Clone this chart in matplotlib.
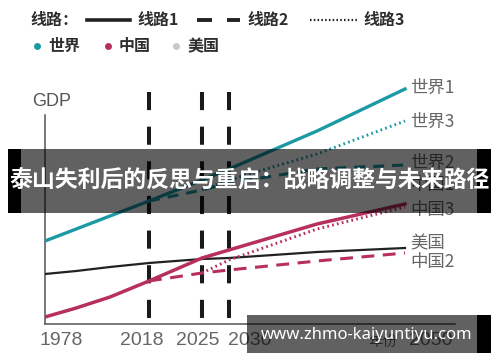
import numpy as np
import matplotlib
matplotlib.use('Agg')
import matplotlib.pyplot as plt
from matplotlib.lines import Line2D
from matplotlib.patches import Rectangle
from matplotlib import transforms

plt.rcParams['font.family'] = ['Noto Sans CJK SC', 'DejaVu Sans']

# ---------------- data (schematic GDP, arbitrary units) ----------------
years_main = [1978, 1990, 2003, 2018, 2025, 2030, 2040, 2050]
world1 = [83, 95, 108, 123, 144, 155, 193, 235]
china1 = [7, 16, 27, 43, 66, 74, 100, 120]
usa = [50, 53, 57, 61, 65, 66, 72, 76]

years_2 = [2018, 2025, 2030, 2040, 2050]
world2 = [123, 134, 141, 155, 159]
china2 = [43, 51, 54, 63, 71]

years_3 = [2025, 2030, 2040, 2050]
world3 = [134, 144, 170, 203]
china3 = [51, 64, 95, 117]

milestones = [2018, 2025, 2030]
milestone_top = 232

tick_years = [1978, 2018, 2025, 2030, 2050]
tick_labels = ['1978', '2018', '2025', '2030', '2050']

end_labels = ['世界1', '世界3', '世界2', '中国1', '中国3', '美国', '中国2']

TEAL = '#1b9aa6'
CRIMSON = '#b72f5e'
BLACK = '#222222'
GRAY_TXT = '#666666'

W, H = 500, 362
fig = plt.figure(figsize=(W / 100, H / 100), dpi=100)
fig.patch.set_facecolor('white')

def fx(px):
    return px / W

def fy(py):
    return 1 - py / H

ax = fig.add_axes([fx(45), fy(324), fx(455) - fx(45), fy(80) - fy(324)])
ax.set_facecolor('none')

# piecewise time axis (schematic, not linear in years)
anchor_years = np.array([1960, 1978, 2018, 2025, 2030, 2050, 2080])
anchor_pos = np.array([-2.0, 45, 149, 202, 229, 405, 669])

def fwd(x):
    return np.interp(x, anchor_years, anchor_pos)

def inv(p):
    return np.interp(p, anchor_pos, anchor_years)

ax.set_xscale('function', functions=(fwd, inv))
ax.set_xlim(1978, float(inv(455)))
ax.set_ylim(0, 244)

# milestone vertical dashed lines (drawn from top down)
for m in milestones:
    ax.plot([m, m], [milestone_top, 0], color='#1a1a1a', lw=2.9,
            linestyle=(0, (4.5, 4.1)), solid_capstyle='butt',
            dash_capstyle='butt', zorder=2)

# lines
ax.plot(years_main, usa, color=BLACK, lw=1.6, zorder=3)
ax.plot(years_main, world1, color=TEAL, lw=2.4, zorder=4, solid_joinstyle='round')
ax.plot(years_main, china1, color=CRIMSON, lw=2.5, zorder=4, solid_joinstyle='round')
ax.plot(years_2, world2, color=TEAL, lw=2.2, linestyle=(0, (3.6, 2.6)), zorder=4)
ax.plot(years_2, china2, color=CRIMSON, lw=2.2, linestyle=(0, (4.2, 2.8)), zorder=4)
ax.plot(years_3, world3, color=TEAL, lw=2.1, linestyle=(0, (0.6, 1.1)), zorder=4)
ax.plot(years_3, china3, color=CRIMSON, lw=2.1, linestyle=(0, (0.6, 1.1)), zorder=4)

# end labels
end_vals = [world1[-1], world3[-1], world2[-1], china1[-1], china3[-1], usa[-1], china2[-1]]
end_offsets_px = [1, -1, 2, 19, -3, 5, -9]
for lab, v, off in zip(end_labels, end_vals, end_offsets_px):
    ax.annotate(lab, xy=(2050, v), xytext=(4, off * 0.72), textcoords='offset points',
                ha='left', va='center', fontsize=12.5, color=GRAY_TXT,
                annotation_clip=False, zorder=5)

# axes styling
for s in ['top', 'right']:
    ax.spines[s].set_visible(False)
ax.spines['left'].set_color('#555555')
ax.spines['bottom'].set_color('#555555')
ax.spines['left'].set_linewidth(1.1)
ax.spines['bottom'].set_linewidth(1.1)
ax.spines['left'].set_bounds(0, 209)
ax.set_yticks([])
ax.set_xticks(tick_years)
ax.set_xticklabels(tick_labels, fontfamily='Liberation Sans', fontsize=14, color=GRAY_TXT)
ax.tick_params(axis='x', length=0, pad=6)
offs = [16, -7, -4, 21, 26]
for lbl, dx in zip(ax.get_xticklabels(), offs):
    lbl.set_transform(lbl.get_transform() +
                      transforms.ScaledTranslation(dx / 100, 0, fig.dpi_scale_trans))

fig.text(fx(383), fy(342), '年份', ha='center', va='center', fontsize=10.5, color=GRAY_TXT)
fig.text(fx(52), fy(101), 'GDP', ha='center', va='center', fontsize=13,
         fontfamily='Liberation Sans', color='#555555')

# ---------------- legend (top) ----------------
LEG = '#2e2e2e'
fig.text(fx(30), fy(20), '线路：', ha='left', va='center', fontsize=11.5, color=LEG, fontweight='bold')
fig.add_artist(Line2D([fx(87), fx(130)], [fy(20), fy(20)], color=BLACK, lw=2.6,
                      transform=fig.transFigure))
fig.text(fx(137), fy(20), '线路1', ha='left', va='center', fontsize=11.5, color=LEG, fontweight='bold')
fig.add_artist(Line2D([fx(197), fx(212)], [fy(20), fy(20)], color=BLACK, lw=2.8,
                      transform=fig.transFigure, solid_capstyle='butt'))
fig.add_artist(Line2D([fx(227), fx(240)], [fy(20), fy(20)], color=BLACK, lw=2.8,
                      transform=fig.transFigure, solid_capstyle='butt'))
fig.text(fx(247), fy(20), '线路2', ha='left', va='center', fontsize=11.5, color=LEG, fontweight='bold')
fig.add_artist(Line2D([fx(310), fx(357)], [fy(20), fy(20)], color=BLACK, lw=1.6,
                      linestyle=(0, (0.7, 1.0)), transform=fig.transFigure))
fig.text(fx(363), fy(20), '线路3', ha='left', va='center', fontsize=11.5, color=LEG, fontweight='bold')

for cx, col, lab in [(37, TEAL, '世界'), (108, CRIMSON, '中国'), (176, '#c8c8c8', '美国')]:
    fig.add_artist(Line2D([fx(cx)], [fy(46)], marker='o', markersize=5, color=col,
                          markeredgewidth=0, transform=fig.transFigure))
    fig.text(fx(cx + 11), fy(46), lab, ha='left', va='center', fontsize=11.5, color=LEG,
             fontweight='bold')

# ---------------- overlay banners ----------------
def rect(x0, y0, x1, y1, color, alpha):
    r = Rectangle((fx(x0), fy(y1)), fx(x1) - fx(x0), fy(y0) - fy(y1),
                  transform=fig.transFigure, facecolor=color, edgecolor='none',
                  alpha=alpha, zorder=20)
    fig.add_artist(r)

rect(21, 149, 477, 213, 'black', 0.62)
rect(8, 149, 21, 213, 'black', 1.0)
rect(477, 149, 491, 213, 'black', 1.0)
fig.text(fx(250), fy(181), '泰山失利后的反思与重启：战略调整与未来路径', ha='center', va='center',
         fontsize=16.5, fontweight='bold', color='white', zorder=30)

rect(247, 315, 477, 353, 'black', 0.62)
rect(477, 315, 491, 353, 'black', 1.0)
fig.text(fx(367), fy(335), 'www.zhmo-kaiyuntiyu.com', ha='center', va='center',
         fontsize=12, fontweight='bold', fontfamily='Noto Sans', color='white', zorder=30)

fig.savefig('out.png', dpi=100, facecolor='white')
